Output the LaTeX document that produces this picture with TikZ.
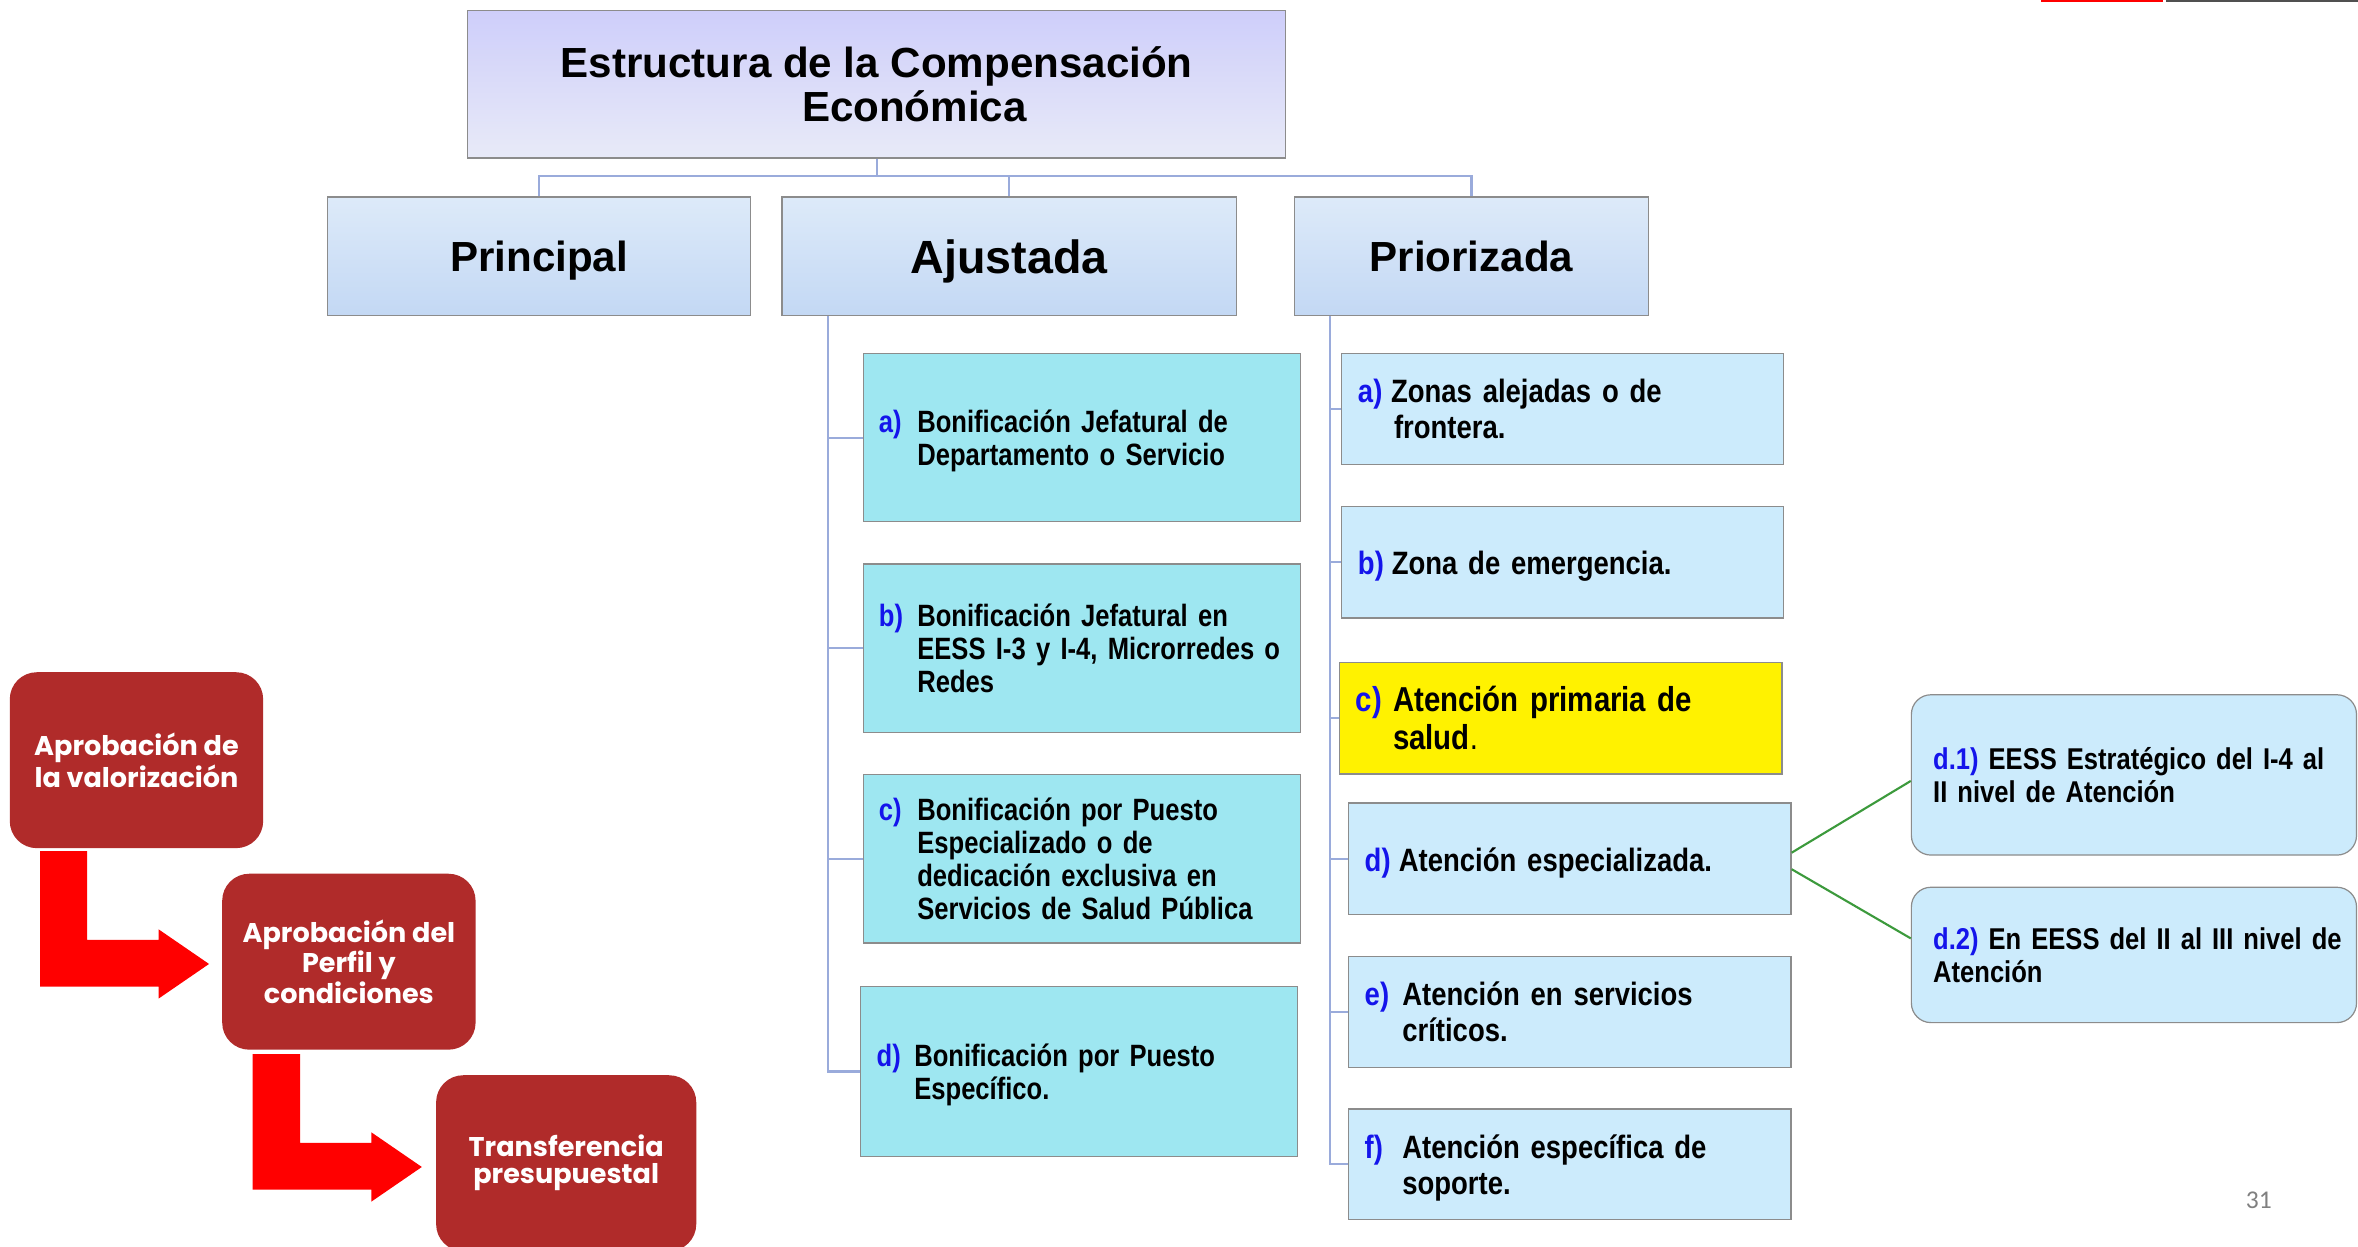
\documentclass[tikz,border=0pt]{standalone}
\usepackage{fontspec}
\setmainfont{Liberation Sans}
\newfontfamily\narrowf[FakeStretch=0.85]{Liberation Sans}
\newfontfamily\narrowg[FakeStretch=0.83]{Liberation Sans}
\newfontfamily\twf{Poppins}
\newfontfamily\pagenumf{Carlito}
\definecolor{titletop}{HTML}{CECEFA}
\definecolor{titlebot}{HTML}{E8EAF8}
\definecolor{ltop}{HTML}{DDEAF9}
\definecolor{lbot}{HTML}{C3D8F4}
\definecolor{ajfill}{HTML}{9EE7F1}
\definecolor{prfill}{HTML}{CCEBFC}
\definecolor{boxgray}{HTML}{8C8C8C}
\definecolor{connblue}{HTML}{9AABDB}
\definecolor{grn}{HTML}{3C9A3C}
\definecolor{labblue}{RGB}{20,20,235}
\definecolor{darkred}{HTML}{B02B2A}
\definecolor{arrowred}{HTML}{FF0000}
\definecolor{decgray}{HTML}{505050}
\newcommand\lab[1]{\textcolor{labblue}{#1}}
\newcommand\dn[1]{\raisebox{0pt}[\dimexpr\height+3pt\relax][\dimexpr\depth-3pt\relax]{#1}}
\begin{document}
\begin{tikzpicture}[x=1pt,y=-1pt,
  bx/.style={draw=boxgray, line width=0.8pt, rectangle, inner sep=0pt},
  ajbox/.style={bx, fill=ajfill, minimum width=291pt, minimum height=112pt,
     inner xsep=10.5pt, text width=270pt, align=left,
     font=\narrowg\bfseries\fontsize{20.5}{22}\selectfont},
  prbox/.style={bx, fill=prfill, minimum width=294.5pt, minimum height=74pt,
     inner xsep=11pt, text width=272.5pt, align=left,
     font=\narrowf\bfseries\fontsize{21.5}{24}\selectfont},
  dbox/.style={bx, rounded corners=13pt, fill=prfill, minimum width=296pt,
     inner xsep=14.5pt, text width=267pt, align=left,
     font=\narrowf\bfseries\fontsize{20}{22}\selectfont},
  lvl/.style={bx, top color=ltop, bottom color=lbot, minimum height=79pt,
     text depth=0pt},
  redbox/.style={rectangle, rounded corners=18pt, fill=darkred, text=white,
     minimum width=168.5pt, minimum height=117pt, inner sep=0pt, align=center},
  conn/.style={draw=connblue, line width=1.4pt},
  grline/.style={draw=grn, line width=1.4pt}]
\useasboundingbox (0,0) rectangle (1568,829);
\fill[white] (0,0) rectangle (1568,829);

% slide decoration at top right
\fill[arrowred] (1357,0) rectangle (1438,1.6);
\fill[decgray] (1440,0) rectangle (1568,1.6);

% title
\node[bx, top color=titletop, bottom color=titlebot, minimum width=544pt,
  minimum height=98pt, align=center,
  font=\bfseries\fontsize{28}{29}\selectfont] (top) at (583,56)
  {Estructura de la Compensación\\\hspace*{50pt}Económica};

% level 2
\node[lvl, minimum width=281pt, font=\bfseries\fontsize{28}{30}\selectfont] (prin) at (358.5,170.5) {Principal};
\node[lvl, minimum width=302pt, font=\bfseries\fontsize{31}{33}\selectfont] (aj) at (671,170.5) {Ajustada};
\node[lvl, minimum width=235pt, font=\bfseries\fontsize{28}{30}\selectfont] (pri) at (978.5,170.5) {Priorizada};

\coordinate (bus) at (583,117);
\draw[conn] (top.south) -- (bus);
\draw[conn] (bus) -| (prin.north);
\draw[conn] (bus) -| (aj.north);
\draw[conn] (bus) -| (pri.north);

% Ajustada children
\node[ajbox] (aA) at (719.5,291) {\noindent\dn{\begin{tabular}{@{}p{25.5pt}@{}l@{}}\lab{a)}&Bonificación Jefatural de\\&Departamento o Servicio\end{tabular}}};
\node[ajbox] (aB) at (719.5,431) {\noindent\dn{\begin{tabular}{@{}p{25.5pt}@{}l@{}}\lab{b)}&Bonificación Jefatural en\\&EESS I-3 y I-4, Microrredes o\\&Redes\end{tabular}}};
\node[ajbox] (aC) at (719.5,571) {\noindent\dn{\begin{tabular}{@{}p{25.5pt}@{}l@{}}\lab{c)}&Bonificación por Puesto\\&Especializado o de\\&dedicación exclusiva en\\&Servicios de Salud Pública\end{tabular}}};
\node[ajbox, minimum height=113pt, inner xsep=11pt, text width=269pt] (aD) at (717.5,712.5) {\noindent\dn{\begin{tabular}{@{}p{25pt}@{}l@{}}\lab{d)}&Bonificación por Puesto\\&Específico.\end{tabular}}};

\coordinate (ajs) at ([xshift=31pt]aj.south west);
\draw[conn] (ajs) |- (aA.west);
\draw[conn] (ajs) |- (aB.west);
\draw[conn] (ajs) |- (aC.west);
\draw[conn] (ajs) |- (aD.west);

% Priorizada children
\node[prbox, minimum width=294pt, text width=272pt] (pA) at (1039,272) {\noindent\dn{\begin{tabular}{@{}p{22pt}@{}l@{}}\lab{a)}&Zonas alejadas o de\\&\hspace*{2pt}frontera.\end{tabular}}};
\node[prbox, minimum width=294pt, text width=272pt] (pB) at (1039,374) {\noindent\dn{\begin{tabular}{@{}p{22.5pt}@{}l@{}}\lab{b)}&Zona de emergencia.\end{tabular}}};
\node[prbox, fill=yellow, font=\narrowf\bfseries\fontsize{23}{25}\selectfont] (pC) at (1037.75,477.7) {\noindent\dn{\begin{tabular}{@{}p{24.8pt}@{}l@{}}\lab{c)}&Atención primaria de\\&salud{\mdseries.}\end{tabular}}};
\node[prbox] (pD) at (1043.75,571) {\noindent\raisebox{0pt}[\dimexpr\height+4pt\relax][\dimexpr\depth-4pt\relax]{\begin{tabular}{@{}p{22.7pt}@{}l@{}}\lab{d)}&Atención especializada.\end{tabular}}};
\node[prbox, minimum height=73.5pt] (pE) at (1043.75,673) {\noindent\dn{\begin{tabular}{@{}p{25pt}@{}l@{}}\lab{e)}&Atención en servicios\\&críticos.\end{tabular}}};
\node[prbox, minimum height=73.5pt] (pF) at (1043.75,774.25) {\noindent\dn{\begin{tabular}{@{}p{25pt}@{}l@{}}\lab{f)}&Atención específica de\\&soporte.\end{tabular}}};

\coordinate (prs) at ([xshift=24pt]pri.south west);
\draw[conn] (prs) |- (pA.west);
\draw[conn] (prs) |- (pB.west);
\draw[conn] (prs) |- (pC.west);
\draw[conn] (prs) |- (pD.west);
\draw[conn] (prs) |- (pE.west);
\draw[conn] (prs) |- (pF.west);

% d.1 / d.2
\node[dbox, minimum height=106.6pt] (d1) at (1419,515.3) {\noindent\dn{\begin{tabular}{@{}l@{}}\lab{d.1)} EESS Estratégico del I-4 al\\II nivel de Atención\end{tabular}}};
\node[dbox, minimum height=90pt] (d2) at (1419,635) {\noindent\dn{\begin{tabular}{@{}l@{}}\lab{d.2)} En EESS del II al III nivel de\\Atención\end{tabular}}};
\draw[grline] ([yshift=4pt]pD.east) -- ([yshift=-4pt]d1.west);
\draw[grline] ([yshift=-7pt]pD.east) -- ([yshift=11pt]d2.west);

% left flow
\node[redbox, font=\twf\bfseries\fontsize{18}{21}\selectfont] (L1) at (90.75,505.5) {Aprobación de\\la valorización};
\node[redbox, font=\twf\bfseries\fontsize{18}{17.5}\selectfont] (L2) at (232,639.5) {Aprobación del\\Perfil y\\condiciones};
\node[redbox, minimum width=173pt, font=\twf\bfseries\fontsize{18}{18}\selectfont] (L3) at (376.5,773.5) {Transferencia\\presupuestal};

\fill[arrowred] (26.6,566) -- (58,566) -- (58,625) -- (105.5,625) -- (105.5,618)
  -- (139,641) -- (105.5,664) -- (105.5,656) -- (26.6,656) -- cycle;
\fill[arrowred] (168,701) -- (199.5,701) -- (199.5,760) -- (247,760) -- (247,753)
  -- (280.5,776) -- (247,799) -- (247,791) -- (168,791) -- cycle;

% page number
\node[text=gray, font=\pagenumf\fontsize{17}{19}\selectfont, inner sep=0pt] (pnum) at (1502,798) {31};
\end{tikzpicture}
\end{document}
